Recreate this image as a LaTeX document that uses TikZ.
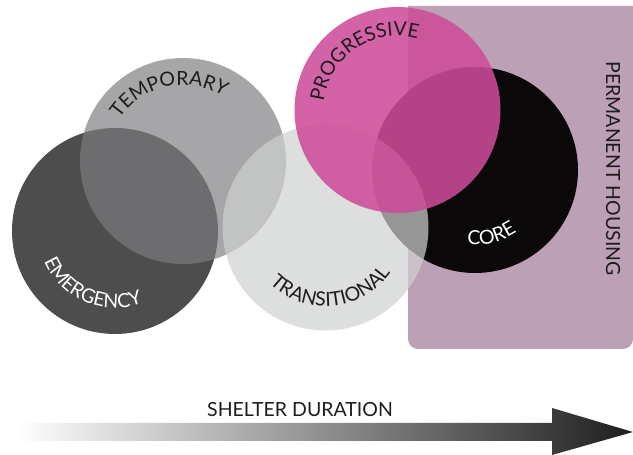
\documentclass[tikz,border=0pt]{standalone}
\usepackage{fontspec}
\setmainfont{Lato}
\usetikzlibrary{decorations.text}
\definecolor{housingfill}{RGB}{188,160,181}
\definecolor{emergencygray}{RGB}{77,77,77}
\definecolor{temporarygray}{RGB}{125,125,128}
\definecolor{coreblack}{RGB}{10,8,8}
\definecolor{transitionalgray}{RGB}{207,209,208}
\definecolor{progressivepink}{RGB}{206,75,153}
\definecolor{labelblack}{RGB}{30,28,29}
\definecolor{arrowdark}{RGB}{30,30,30}
\newcommand{\labelfont}{\fontsize{19.5}{19.5}\selectfont}
\tikzset{stage/.style=
   {circle,
    inner sep=0pt,
    minimum size=206pt}}
\tikzset{arclabel/.style = {decorate,
    decoration={text along path, text align=center, text color=#1}}}

\begin{document}
\begin{tikzpicture}[x=1pt, y=1pt]
    \useasboundingbox (0,0) rectangle (633,455);

    % Permanent housing band
    \fill [housingfill] (408,449) -- (408,116)
    arc [start angle=180, end angle=270, radius=10pt] -- (623,106)
    arc [start angle=270, end angle=360, radius=10pt] -- (633,449) -- cycle;

    % Place nodes
    \node [stage, fill=emergencygray] (emergency) at (115,224) {};
    \node [stage, fill=temporarygray, fill opacity=0.685] (temporary) at (183,294) {};
    \node [stage, fill=coreblack] (core) at (475,285) {};
    \node [stage, fill=transitionalgray, fill opacity=0.71] (transitional) at (325.5,227.5) {};
    \node [stage, fill=progressivepink, fill opacity=0.87] (progressive) at (397.5,345) {};

    % Curved labels
    \path [arclabel=white, decoration={text={|\labelfont|EMERGENCY}}]
    ([shift={(172:77pt)}] emergency.center)
    arc [start angle=172, end angle=322, radius=77pt];

    \path [arclabel=labelblack, decoration={text={|\labelfont|TEMPORARY}}]
    ([shift={(172:76pt)}] temporary.center)
    arc [start angle=172, end angle=32, radius=76pt];

    \path [arclabel=labelblack, decoration={text={|\labelfont|TRANSITIONAL}}]
    ([shift={(200:79pt)}] transitional.center)
    arc [start angle=200, end angle=350, radius=79pt];

    \path [arclabel=labelblack, decoration={text={|\labelfont|PROGRESSIVE}}]
    ([shift={(199:74pt)}] progressive.center)
    arc [start angle=199, end angle=49, radius=74pt];

    \path [arclabel=white, decoration={text={|\labelfont|CORE}}]
    ([shift={(234:75pt)}] core.center)
    arc [start angle=234, end angle=334, radius=75pt];

    \node [rotate=-90, text=labelblack, font=\labelfont] (permanent) at (613,286.5) {PERMANENT HOUSING};

    % Duration arrow
    \shade [left color=white, right color=arrowdark]
    (16,14) -- (552,14) -- (552,0) -- (633,23) -- (552,47) -- (552,32) -- (16,32) -- cycle;
    \node [text=labelblack, font=\labelfont] (duration) at (300,45.5) {SHELTER DURATION};
\end{tikzpicture}
\end{document}
